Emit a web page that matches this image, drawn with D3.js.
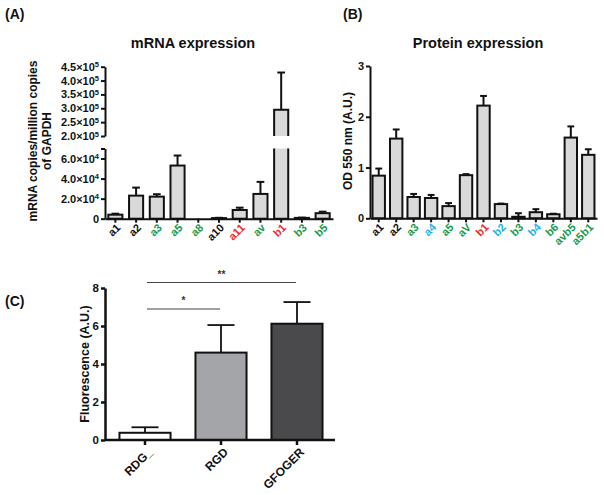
<!DOCTYPE html>
<html><head><meta charset="utf-8">
<script src="https://cdn.jsdelivr.net/npm/d3@7"></script>
<style>
body{margin:0;background:#fff}
svg{display:block}
text{font-family:"Liberation Sans",Arial,Helvetica,sans-serif;font-weight:bold}
</style>
</head><body>
<svg id="c" width="604" height="495"></svg>
<script>
// ---------- DATA ----------
// Panel A: mRNA expression (copies / million copies of GAPDH)
const aCategories = ["a1","a2","a3","a5","a8","a10","a11","av","b1","b3","b5"];
const aValues     = [4000, 23000, 22000, 53000, 0, 600, 8700, 24700, 295000, 800, 5500];
const aErrors     = [1000, 8000, 2400, 10000, 0, 300, 2300, 12000, 134000, 300, 1500];
const aLowerTicks = [0, 20000, 40000, 60000, 70000];
const aUpperTicks = [200000, 250000, 300000, 350000, 400000, 450000];

// Panel B: Protein expression (OD 550 nm)
const bCategories = ["a1","a2","a3","a4","a5","aV","b1","b2","b3","b4","b6","avb5","a5b1"];
const bValues     = [0.84, 1.57, 0.42, 0.40, 0.24, 0.85, 2.22, 0.28, 0.03, 0.12, 0.08, 1.59, 1.25];
const bErrors     = [0.14, 0.18, 0.06, 0.06, 0.06, 0.02, 0.19, 0.01, 0.07, 0.06, 0.01, 0.22, 0.11];
const bTicks      = [0, 1, 2, 3];

// Panel C: Fluorescence
const cCategories = ["RDG_","RGD","GFOGER"];
const cValues     = [0.38, 4.6, 6.12];
const cErrors     = [0.29, 1.45, 1.14];
const cTicks      = [0, 2, 4, 6, 8];
const cSignif     = [{from:"RDG_", to:"GFOGER", label:"**"}, {from:"RDG_", to:"RGD", label:"*"}];

// ---------- STYLES ----------
const BLACK = "#111", GREEN = "#1a9a4a", RED = "#ee2b2b", BLUE = "#1fb0e8";
const labelColorA = {a1:BLACK,a2:BLACK,a3:GREEN,a5:GREEN,a8:GREEN,a10:BLACK,a11:RED,av:GREEN,b1:RED,b3:GREEN,b5:GREEN};
const labelColorB = {a1:BLACK,a2:BLACK,a3:GREEN,a4:BLUE,a5:GREEN,aV:GREEN,b1:RED,b2:BLUE,b3:GREEN,b4:BLUE,b6:GREEN,avb5:GREEN,a5b1:GREEN};
const barFill = "#d9d9d9";
const cFill = {"RDG_":"#ffffff","RGD":"#a4a5a9","GFOGER":"#4a4a4c"};

const svg = d3.select("#c");

function styleAxis(g, sw){
  g.attr("font-family",null).attr("font-size",null);
  g.selectAll("path.domain").attr("stroke","#111").attr("stroke-width",sw);
  g.selectAll(".tick line").attr("stroke","#111").attr("stroke-width",sw);
  g.selectAll(".tick text").attr("fill","#111");
}
function sciLabel(sel, v){
  sel.text(null);
  if(v === 0){ sel.text("0"); return; }
  const e = Math.floor(Math.log10(v));
  const m = d3.format(".1f")(v/Math.pow(10,e));
  sel.append("tspan").text(m + "\u00d710");
  sel.append("tspan").attr("dy","-0.45em").attr("font-size","7.5px").text(e);
}
function rotLabels(g, colorMap, dx, dy, fs){
  g.selectAll(".tick text")
    .attr("x",0).attr("y",0).attr("dy","0.35em")
    .attr("text-anchor","end")
    .attr("font-size",fs+"px")
    .attr("transform",`translate(${dx},${dy}) rotate(-45)`)
    .attr("fill", d => colorMap ? colorMap[d] : "#111");
}
function errBar(g, cx, yTop, yErr, capW, sw){
  g.append("line").attr("x1",cx).attr("x2",cx).attr("y1",yTop).attr("y2",yErr).attr("stroke","#111").attr("stroke-width",sw);
  g.append("line").attr("x1",cx-capW/2).attr("x2",cx+capW/2).attr("y1",yErr).attr("y2",yErr).attr("stroke","#111").attr("stroke-width",sw);
}

// ---------- PANEL A ----------
(function(){
  const g = svg.append("g");
  g.append("text").attr("x",5).attr("y",19).attr("font-size","14px").attr("fill","#111").text("(A)");
  g.append("text").attr("x",193).attr("y",48).attr("text-anchor","middle").attr("font-size","14.5px").attr("fill","#111").text("mRNA expression");

  const x = d3.scaleBand().domain(aCategories).range([105,333]).paddingInner(0.32).paddingOuter(0.16);
  const yLo = d3.scaleLinear().domain([0,70000]).range([218.7,148.5]);
  const yHi = d3.scaleLinear().domain([200000,450000]).range([136,66.7]);
  const w = x.bandwidth();

  aCategories.forEach((c,i)=>{
    const v = aValues[i], e = aErrors[i];
    if(v <= 0) return;
    const x0 = x(c), cx = x0 + w/2;
    if(v <= 70000){
      g.append("rect").attr("x",x0).attr("y",yLo(v)).attr("width",w).attr("height",yLo(0)-yLo(v))
        .attr("fill",barFill).attr("stroke","#111").attr("stroke-width",2);
      errBar(g, cx, yLo(v), yLo(v+e), w*0.55, 2);
    } else {
      const top = yLo(70000), bot = yLo(0);
      g.append("rect").attr("x",x0).attr("y",top).attr("width",w).attr("height",bot-top).attr("fill",barFill);
      g.append("path").attr("d",`M${x0},${top}V${bot}H${x0+w}V${top}`).attr("fill","none").attr("stroke","#111").attr("stroke-width",2);
      const hb = yHi(200000), ht = yHi(v);
      g.append("rect").attr("x",x0).attr("y",ht).attr("width",w).attr("height",hb-ht).attr("fill",barFill);
      g.append("path").attr("d",`M${x0},${hb}V${ht}H${x0+w}V${hb}`).attr("fill","none").attr("stroke","#111").attr("stroke-width",2);
      errBar(g, cx, ht, yHi(v+e), w*0.55, 2);
    }
  });

  const gxl = g.append("g").attr("transform","translate(0,218.7)")
    .call(d3.axisBottom(x).tickSize(4).tickSizeOuter(0));
  styleAxis(gxl,2);
  rotLabels(gxl, labelColorA, 3, 7, 11);

  const gyl = g.append("g").attr("transform","translate(105,0)")
    .call(d3.axisLeft(yLo).tickValues(aLowerTicks).tickSize(4).tickSizeOuter(0).tickPadding(2));
  styleAxis(gyl,2);
  gyl.selectAll(".tick text").attr("font-size","11px").each(function(d){ if(d===70000){d3.select(this).text("");} else sciLabel(d3.select(this), d); });

  const gyh = g.append("g").attr("transform","translate(105,0)")
    .call(d3.axisLeft(yHi).tickValues(aUpperTicks).tickSize(4).tickSizeOuter(0).tickPadding(2));
  styleAxis(gyh,2);
  gyh.selectAll(".tick text").attr("font-size","11px").each(function(d){ sciLabel(d3.select(this), d); });

  const lab = g.append("text").attr("transform","translate(33,141) rotate(-90)").attr("text-anchor","middle").attr("font-size","12px").attr("fill","#111");
  lab.append("tspan").attr("x",0).attr("dy","0.35em").text("mRNA copies/million copies");
  lab.append("tspan").attr("x",0).attr("dy","1.15em").text("of GAPDH");
})();

// ---------- PANEL B ----------
(function(){
  const g = svg.append("g");
  g.append("text").attr("x",343).attr("y",19).attr("font-size","14px").attr("fill","#111").text("(B)");
  g.append("text").attr("x",478).attr("y",48).attr("text-anchor","middle").attr("font-size","14.5px").attr("fill","#111").text("Protein expression");

  const x = d3.scaleBand().domain(bCategories).range([370,597]).paddingInner(0.29).paddingOuter(0.145);
  const y = d3.scaleLinear().domain([0,3]).range([218.3,66]);
  const w = x.bandwidth();

  bCategories.forEach((c,i)=>{
    const v = bValues[i], e = bErrors[i];
    const x0 = x(c), cx = x0 + w/2;
    g.append("rect").attr("x",x0).attr("y",y(v)).attr("width",w).attr("height",y(0)-y(v))
      .attr("fill",barFill).attr("stroke","#111").attr("stroke-width",2);
    errBar(g, cx, y(v), y(v+e), w*0.55, 2);
  });

  const gx = g.append("g").attr("transform","translate(0,218.3)")
    .call(d3.axisBottom(x).tickSize(4).tickSizeOuter(0));
  styleAxis(gx,2);
  rotLabels(gx, labelColorB, 3, 7, 11);

  const gy = g.append("g").attr("transform","translate(370,0)")
    .call(d3.axisLeft(y).tickValues(bTicks).tickFormat(d3.format("d")).tickSize(4).tickSizeOuter(0).tickPadding(2));
  styleAxis(gy,2);
  gy.selectAll(".tick text").attr("font-size","11px");

  g.append("text").attr("transform","translate(348,141) rotate(-90)").attr("text-anchor","middle").attr("dy","0.35em").attr("font-size","12px").attr("fill","#111").text("OD 550 nm (A.U.)");
})();

// ---------- PANEL C ----------
(function(){
  const g = svg.append("g");
  g.append("text").attr("x",5).attr("y",306).attr("font-size","14px").attr("fill","#111").text("(C)");

  const x = d3.scaleBand().domain(cCategories).range([107,335]).paddingInner(0.328).paddingOuter(0.164);
  const y = d3.scaleLinear().domain([0,8]).range([440,288]);
  const w = x.bandwidth();

  cCategories.forEach((c,i)=>{
    const v = cValues[i], e = cErrors[i];
    const x0 = x(c), cx = x0 + w/2;
    errBar(g, cx, y(v), y(v+e), w*0.53, 1.8);
    g.append("rect").attr("x",x0).attr("y",y(v)).attr("width",w).attr("height",y(0)-y(v))
      .attr("fill",cFill[c]).attr("stroke","#111").attr("stroke-width",2);
  });

  const gx = g.append("g").attr("transform","translate(0,440)")
    .call(d3.axisBottom(x).tickSize(5).tickSizeOuter(0));
  styleAxis(gx,2.5);
  gx.select("path.domain").attr("d","M105,0H335");
  rotLabels(gx, null, 5, 10, 12);

  const gy = g.append("g").attr("transform","translate(105,0)")
    .call(d3.axisLeft(y).tickValues(cTicks).tickFormat(d3.format("d")).tickSize(4).tickSizeOuter(0).tickPadding(2));
  styleAxis(gy,2.5);
  gy.selectAll(".tick text").attr("font-size","11.5px");

  g.append("text").attr("transform","translate(85,364) rotate(-90)").attr("text-anchor","middle").attr("dy","0.35em").attr("font-size","12.5px").attr("fill","#111").text("Fluorescence (A.U.)");

  const sigY = [282.5, 309];
  cSignif.forEach((s,i)=>{
    const x1 = x(s.from) + w/2 + 2, x2 = x(s.to) + w/2 - 1;
    g.append("line").attr("x1",x1).attr("x2",x2).attr("y1",sigY[i]).attr("y2",sigY[i]).attr("stroke","#444").attr("stroke-width",1.2);
    g.append("text").attr("x",(x1+x2)/2).attr("y",sigY[i]-5).attr("text-anchor","middle").attr("font-size","10px").attr("fill","#333").text(s.label);
  });
})();
</script>
</body></html>
